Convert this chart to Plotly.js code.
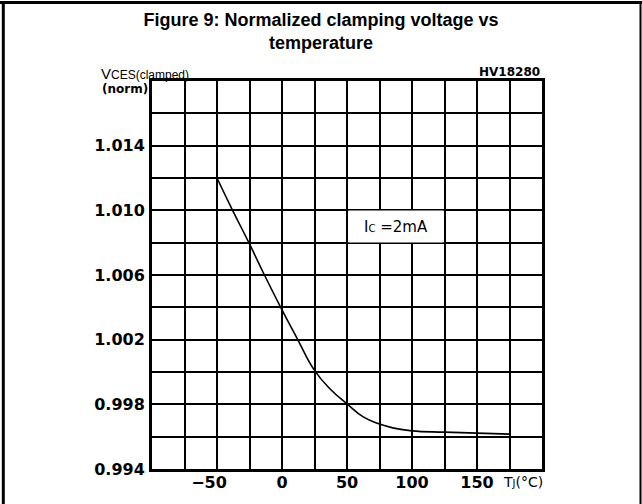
<!DOCTYPE html>
<html>
<head>
<meta charset="utf-8">
<script src="https://cdn.plot.ly/plotly-3.0.1.min.js"></script>
<style>
  html, body { margin: 0; padding: 0; background: #fff; }
  #chart { width: 642px; height: 504px; }
</style>
</head>
<body>
<div id="chart"></div>
<script>
// Junction temperature (°C)
const temperature = [-50, -38, -25.5, -13.5, -1, 11.5, 25, 37, 50.5, 62.5, 75, 86, 100, 125, 150, 175];
// Normalized clamping voltage VCES(clamped)
const vcesNorm = [1.0120, 1.0100, 1.0080, 1.0060, 1.0040, 1.0021, 1.0001, 0.99895, 0.9980, 0.99722, 0.99678, 0.99653, 0.99636, 0.99628, 0.99622, 0.99616];

// Axis ticks (grid every 25 °C and every 0.002)
const xTickVals = [-100, -75, -50, -25, 0, 25, 50, 75, 100, 125, 150, 175, 200];
const xTickText = ['', '', '\u221250\u2003', '', '0', '', '50', '', '100', '', '150', '', ''];
const yTickVals = [0.994, 0.996, 0.998, 1.000, 1.002, 1.004, 1.006, 1.008, 1.010, 1.012, 1.014, 1.016, 1.018];
const yTickText = ['0.994', '', '0.998', '', '1.002', '', '1.006', '', '1.010', '', '1.014', '', ''];

const L = 152, R = 100, T = 81, B = 35, W = 642, H = 504;
const pw = W - L - R, ph = H - T - B;
const px = v => (v - L) / pw;          // pixel x -> paper x
const py = v => (H - B - v) / ph;      // pixel y -> paper y

const trace = {
  x: temperature,
  y: vcesNorm,
  type: 'scatter',
  mode: 'lines',
  line: { color: '#000', width: 1.6, shape: 'spline', smoothing: 1.3 },
  hoverinfo: 'skip'
};

const tickFont = { family: 'DejaVu Sans', size: 16, color: '#000', weight: 'bold' };

const layout = {
  width: W, height: H,
  margin: { l: L, r: R, t: T, b: B, pad: 0 },
  paper_bgcolor: '#fff',
  plot_bgcolor: '#fff',
  showlegend: false,
  title: {
    text: '<b>Figure 9: Normalized clamping voltage vs<br>temperature</b>',
    font: { family: 'Liberation Sans, Arial', size: 18, color: '#000' },
    x: 0.5, xref: 'container', xanchor: 'center',
    y: 1 - 26 / H, yref: 'container', yanchor: 'top'
  },
  xaxis: {
    range: [-100, 200],
    tickmode: 'array', tickvals: xTickVals, ticktext: xTickText,
    showgrid: true, gridcolor: '#000', gridwidth: 2,
    showline: true, linecolor: '#000', linewidth: 3, mirror: true,
    zeroline: false, ticks: '', ticklabelstandoff: -3,
    tickfont: tickFont, fixedrange: true
  },
  yaxis: {
    range: [0.994, 1.018],
    tickmode: 'array', tickvals: yTickVals, ticktext: yTickText,
    showgrid: true, gridcolor: '#000', gridwidth: 2,
    showline: true, linecolor: '#000', linewidth: 3, mirror: true,
    zeroline: false, ticks: '', ticklabelstandoff: 1,
    tickfont: tickFont, fixedrange: true
  },
  shapes: [
    { type: 'line', xref: 'paper', yref: 'paper', x0: px(0), x1: px(642), y0: py(2.5), y1: py(2.5), line: { color: '#000', width: 3 } },
    { type: 'line', xref: 'paper', yref: 'paper', x0: px(3.3), x1: px(3.3), y0: py(1), y1: py(504), line: { color: '#000', width: 3 } },
    { type: 'line', xref: 'paper', yref: 'paper', x0: px(640.5), x1: px(640.5), y0: py(1), y1: py(504), line: { color: '#000', width: 2 } }
  ],
  annotations: [
    {
      text: 'I<span style="font-size:10px">C</span> =2mA',
      x: 87.5, y: 1.009, xref: 'x', yref: 'y',
      showarrow: false, bgcolor: '#fff', width: 90, height: 27, borderpad: 2,
      font: { family: 'DejaVu Sans', size: 15, color: '#000' }
    },
    {
      text: 'V<span style="font-size:12px">CES(clamped)</span>',
      x: px(99), y: py(73), xref: 'paper', yref: 'paper',
      xanchor: 'left', yanchor: 'middle', showarrow: false,
      font: { family: 'Liberation Sans, Arial', size: 15, color: '#000' }
    },
    {
      text: '<b>(norm)</b>',
      x: px(150), y: py(89), xref: 'paper', yref: 'paper',
      xanchor: 'right', yanchor: 'middle', showarrow: false,
      font: { family: 'DejaVu Sans', size: 12, color: '#000' }
    },
    {
      text: '<b>HV18280</b>',
      x: px(542), y: py(72), xref: 'paper', yref: 'paper',
      xanchor: 'right', yanchor: 'middle', showarrow: false,
      font: { family: 'DejaVu Sans', size: 12, color: '#000' }
    },
    {
      text: 'T<span style="font-size:10px">J</span>(°C)',
      x: px(523), y: py(482), xref: 'paper', yref: 'paper',
      xanchor: 'center', yanchor: 'middle', showarrow: false,
      font: { family: 'DejaVu Sans', size: 14, color: '#000' }
    }
  ]
};

Plotly.newPlot('chart', [trace], layout, { staticPlot: true, displayModeBar: false });
</script>
</body>
</html>
